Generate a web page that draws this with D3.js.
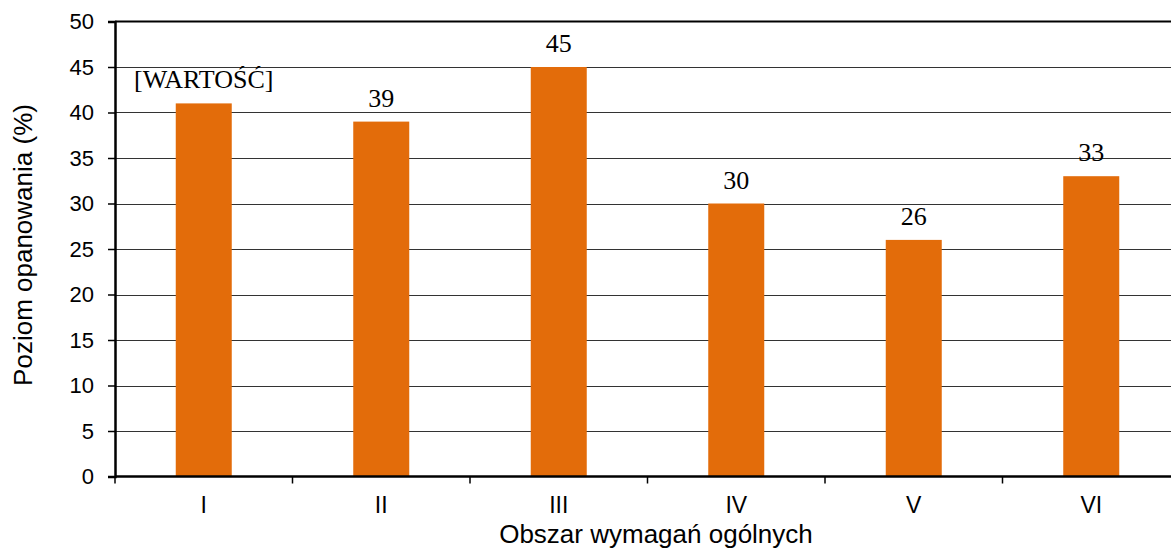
<!DOCTYPE html>
<html><head><meta charset="utf-8">
<script src="https://cdn.jsdelivr.net/npm/d3@7"></script>
<style>body{margin:0;background:#fff}svg{display:block}</style>
</head><body>
<svg id="c" width="1171" height="554"></svg>
<script>
const categories = ["I","II","III","IV","V","VI"];
const values = [41,39,45,30,26,33];
const labels = ["[WARTOŚĆ]","39","45","30","26","33"];
const yTicks = [0,5,10,15,20,25,30,35,40,45,50];

const svg = d3.select("#c");
const mLeft = 115, mRight = 1180, mTop = 21.5, mBottom = 476.5;
const x = d3.scaleBand().domain(categories).range([mLeft, mRight]).paddingInner(0).paddingOuter(0);
const y = d3.scaleLinear().domain([0,50]).range([mBottom, mTop]);
const sans = "'Liberation Sans', Arial, sans-serif";
const serif = "'Liberation Serif', 'Times New Roman', serif";

// gridlines
svg.append("g").selectAll("line").data(yTicks.filter(d=>d>0 && d<50)).join("line")
  .attr("x1", mLeft).attr("x2", 1171)
  .attr("y1", d=>Math.round(y(d))+0.5).attr("y2", d=>Math.round(y(d))+0.5)
  .attr("stroke", "#333").attr("stroke-width", 1);

// bars
const bw = 56;
svg.append("g").selectAll("rect").data(values).join("rect")
  .attr("x", (d,i)=>x(categories[i]) + x.bandwidth()/2 - bw/2)
  .attr("width", bw)
  .attr("y", d=>y(d)).attr("height", d=>y(0)-y(d))
  .attr("fill", "#E36C0A");

// top border
svg.append("line").attr("x1", mLeft).attr("x2", 1171).attr("y1", mTop).attr("y2", mTop)
  .attr("stroke", "#000").attr("stroke-width", 2);

// y axis
const ya = svg.append("g").attr("transform", `translate(${mLeft},0)`)
  .call(d3.axisLeft(y).tickValues(yTicks).tickSize(7).tickPadding(14));
ya.select(".domain").attr("stroke", "#000").attr("stroke-width", 2.5);
ya.selectAll(".tick line").attr("stroke","#000").attr("stroke-width",1.5);
ya.selectAll("text").attr("font-family",sans).attr("font-size","22px").attr("fill","#000");

// x axis
const xa = svg.append("g").attr("transform", `translate(0,${mBottom})`)
  .call(d3.axisBottom(x).tickSize(0).tickPadding(0));
xa.select(".domain").remove();
xa.selectAll("text").attr("dy", null).attr("y", 36.5)
  .attr("font-family",sans).attr("font-size","23px").attr("fill","#000");
svg.append("line").attr("x1", mLeft).attr("x2", 1171).attr("y1", mBottom).attr("y2", mBottom)
  .attr("stroke","#000").attr("stroke-width",2.5);
// x ticks at band boundaries
const bounds = categories.map(c=>x(c));
svg.append("g").selectAll("line").data(bounds).join("line")
  .attr("x1", d=>d).attr("x2", d=>d).attr("y1", mBottom).attr("y2", mBottom+7)
  .attr("stroke","#000").attr("stroke-width",1.5);

// data labels
svg.append("g").selectAll("text").data(values).join("text")
  .attr("x", (d,i)=>x(categories[i]) + x.bandwidth()/2)
  .attr("y", d=>y(d) - 15)
  .attr("text-anchor","middle")
  .attr("font-family",serif)
  .attr("font-size","26px").attr("fill","#000")
  .text((d,i)=>labels[i]);

// axis titles
svg.append("text").attr("x", 656).attr("y", 543).attr("text-anchor","middle")
  .attr("font-family",sans).attr("font-size","26px")
  .text("Obszar wymagań ogólnych");
svg.append("text").attr("transform","translate(32,245) rotate(-90)").attr("text-anchor","middle")
  .attr("font-family",sans).attr("font-size","26px")
  .text("Poziom opanowania (%)");
</script>
</body></html>
